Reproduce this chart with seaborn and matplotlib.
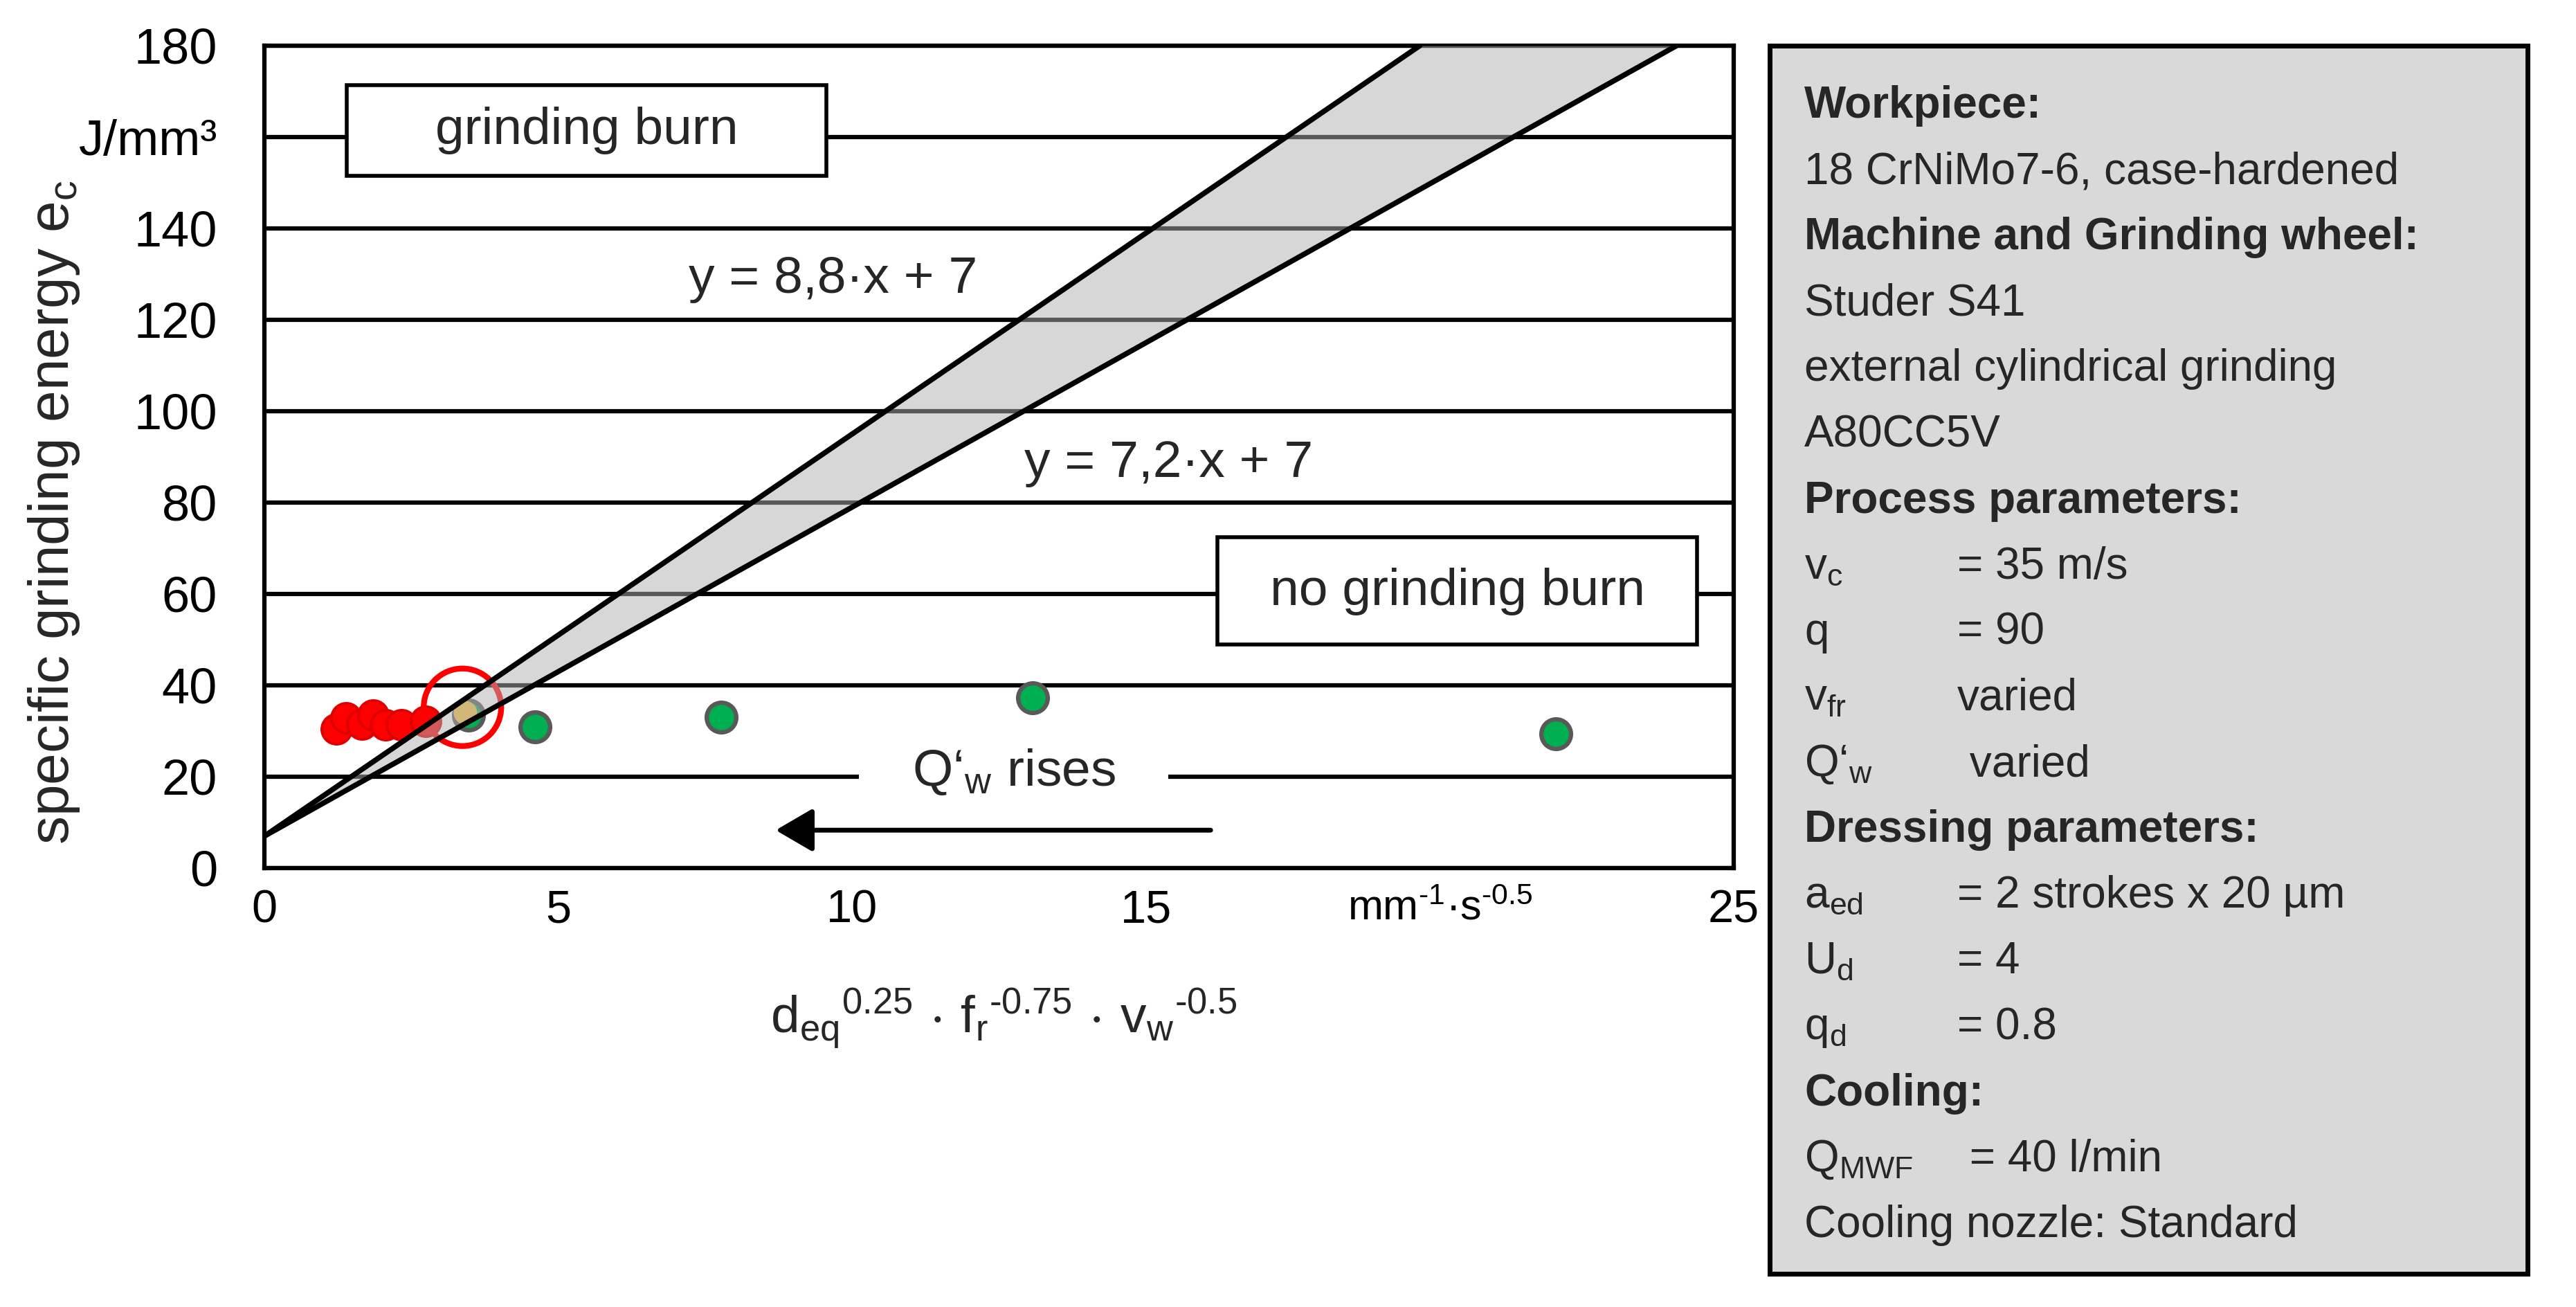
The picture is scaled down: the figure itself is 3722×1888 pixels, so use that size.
import matplotlib
matplotlib.use("Agg")
import numpy as np
import matplotlib.pyplot as plt
from matplotlib.patches import Rectangle
import seaborn as sns

burn_x = [1.22, 1.39, 1.66, 1.85, 2.06, 2.33, 2.74]
burn_y = [30.5, 32.9, 31.5, 33.5, 31.4, 31.4, 32.1]
ok_x = [3.47, 4.61, 7.77, 13.07, 21.97]
ok_y = [33.5, 30.9, 33.0, 37.3, 29.4]
limit_x = [3.42]
limit_y = [34.0]
ring_x = [3.37]
ring_y = [35.2]

# boundary lines y = m*x + b
slopes = [8.8, 7.2]
intercept = 7
eq_labels = ["y = 8,8·x + 7", "y = 7,2·x + 7"]

HY = "\u2010"  # short hyphen, the chart does not use the long minus
x_ticks = [0, 5, 10, 15, 20, 25]
x_labels = ["0", "5", "10", "15",
            r"mm$^\mathregular{" + HY + "1}$·s$^\mathregular{" + HY + "0.5}$", "25"]
y_ticks = [0, 20, 40, 60, 80, 100, 120, 140, 160, 180]
y_labels = ["0", "20", "40", "60", "80", "100", "120", "140", "J/mm³", "180"]

info_lines = [
    ("Workpiece:", None, True),
    ("18 CrNiMo7-6, case-hardened", None, False),
    ("Machine and Grinding wheel:", None, True),
    ("Studer S41", None, False),
    ("external cylindrical grinding", None, False),
    ("A80CC5V", None, False),
    ("Process parameters:", None, True),
    (r"v$_\mathregular{c}$", "= 35 m/s", False),
    ("q", "= 90", False),
    (r"v$_\mathregular{fr}$", "varied", False),
    (r"Q‘$_\mathregular{w}$", " varied", False),
    ("Dressing parameters:", None, True),
    (r"a$_\mathregular{ed}$", "= 2 strokes x 20 µm", False),
    (r"U$_\mathregular{d}$", "= 4", False),
    (r"q$_\mathregular{d}$", "= 0.8", False),
    ("Cooling:", None, True),
    (r"Q$_\mathregular{MWF}$", " = 40 l/min", False),
    ("Cooling nozzle: Standard", None, False),
]

sns.set_theme(style="white")
plt.rcParams["font.family"] = ["Liberation Sans", "DejaVu Sans"]
plt.rcParams["mathtext.fontset"] = "custom"
plt.rcParams["mathtext.rm"] = "Liberation Sans"
plt.rcParams["mathtext.it"] = "Liberation Sans:italic"
plt.rcParams["mathtext.bf"] = "Liberation Sans:bold"

W, H = 3723, 1888
fig = plt.figure(figsize=(W / 100, H / 100), dpi=100)
fig.patch.set_facecolor("white")
ax = fig.add_axes([382 / W, 1 - 1254 / H, (2505 - 382) / W, (1254 - 66) / H])
ax.set_xlim(0, 25)
ax.set_ylim(0, 180)

# horizontal grid
for yv in y_ticks:
    ax.axhline(yv, color="black", lw=4.5, zorder=1)

# points
sns.scatterplot(x=burn_x, y=burn_y, s=950, color="#ff0000", edgecolor="#e00000",
                linewidth=3, zorder=3, ax=ax)
sns.scatterplot(x=ok_x, y=ok_y, s=950, color="#00b050", edgecolor="#595959",
                linewidth=4.5, zorder=3, ax=ax)
sns.scatterplot(x=limit_x, y=limit_y, s=600, color="#f2c040", edgecolor="none",
                linewidth=0, zorder=3.5, ax=ax)
sns.scatterplot(x=ring_x, y=ring_y, s=6500, facecolor="none", edgecolor="#ff0000",
                linewidth=6, zorder=4, ax=ax)

# band between the two boundary lines
x_end = [(180 - intercept) / m for m in slopes]
xs = np.linspace(0, x_end[1], 400)
upper = np.minimum(slopes[0] * xs + intercept, 180)
lower = slopes[1] * xs + intercept
ax.fill_between(xs, lower, upper, color="#b0b0b0", alpha=0.5, lw=0, zorder=5)
for m, xe in zip(slopes, x_end):
    lx = [0, xe]
    ly = [intercept + m * v for v in lx]
    sns.lineplot(x=lx, y=ly, color="black", lw=5.5, zorder=6, ax=ax)

# annotations
ax.add_patch(Rectangle((1.40, 151.5), 8.16, 19.8, facecolor="white",
                       edgecolor="black", lw=4, zorder=7))
ax.text(5.48, 161.4, "grinding burn", ha="center", va="center", fontsize=54, zorder=8)
ax.add_patch(Rectangle((16.22, 49.0), 8.16, 23.4, facecolor="white",
                       edgecolor="black", lw=4, zorder=7))
ax.text(20.3, 60.6, "no grinding burn", ha="center", va="center", fontsize=54, zorder=8)
ax.text(9.68, 128.9, eq_labels[0], ha="center", va="center", fontsize=54, zorder=8)
ax.text(15.38, 88.6, eq_labels[1], ha="center", va="center", fontsize=54, zorder=8)

ax.add_patch(Rectangle((10.12, 16.0), 5.26, 9.0, facecolor="white",
                       edgecolor="none", zorder=7))
ax.text(12.75, 21.0, r"Q‘$_\mathregular{w}$ rises", ha="center", va="center",
        fontsize=54, zorder=8)
ax.annotate("", xy=(8.7, 8.3), xytext=(16.1, 8.3), zorder=8,
            arrowprops=dict(arrowstyle="-|>,head_length=0.6,head_width=0.35",
                            mutation_scale=55, lw=5, color="black",
                            shrinkA=0, shrinkB=0))

# axes styling
ax.set_xticks(x_ticks)
ax.set_xticklabels(x_labels, fontsize=48)
ax.set_yticks(y_ticks)
ax.set_yticklabels(y_labels, fontsize=52)
ax.get_xticklabels()[4].set_fontsize(44)
ax.tick_params(axis="x", direction="out", length=15, width=3.5, pad=7, colors="black")
ax.tick_params(axis="y", direction="out", length=15, width=3.5, pad=34, colors="black")
for sp in ax.spines.values():
    sp.set_visible(True)
    sp.set_color("black")
    sp.set_linewidth(4.5)
ax.grid(False)

fig.text(1450 / W, 1 - 1472 / H,
         r"$\mathregular{d_{eq}{}^{0.25}\,\cdot\,f_{r}{}^{" + HY + r"0.75}\,\cdot\,v_{w}{}^{"
         + HY + "0.5}}$",
         ha="center", va="center", fontsize=54)
fig.text(78 / W, 1 - 740 / H, r"specific grinding energy e$_\mathregular{c}$",
         ha="center", va="center", rotation=90, fontsize=59,
         family=["Liberation Sans Narrow", "Liberation Sans"])

# info box
fig.add_artist(Rectangle((2557 / W, 1 - 1840 / H), (3652 - 2557) / W, (1840 - 66) / H,
                         transform=fig.transFigure, facecolor="#d9d9d9",
                         edgecolor="black", lw=5))
for i, (lab, val, bold) in enumerate(info_lines):
    yb = 1 - (170 + i * 95.1) / H
    fig.text(2607 / W, yb, lab, ha="left", va="baseline", fontsize=46,
             fontweight="bold" if bold else "normal")
    if val is not None:
        fig.text(2828 / W, yb, val, ha="left", va="baseline", fontsize=46)

fig.savefig("out.png", dpi=100, facecolor="white")
